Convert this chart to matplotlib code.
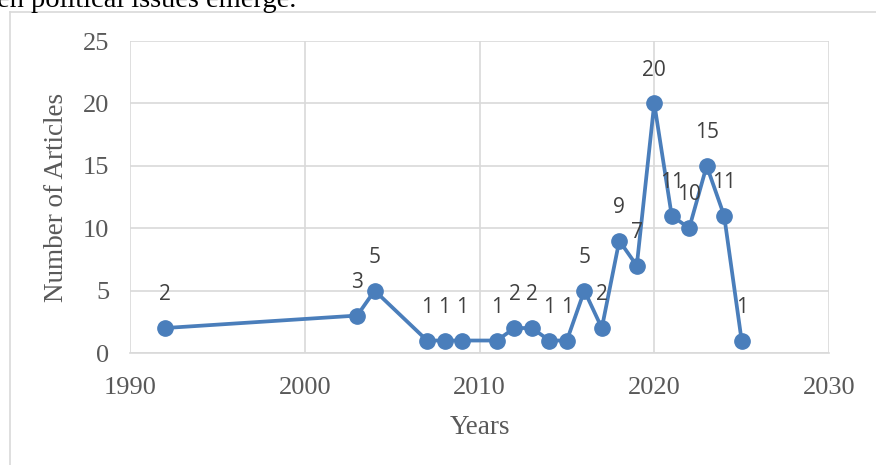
import matplotlib
matplotlib.use("Agg")
import matplotlib.pyplot as plt
from matplotlib.lines import Line2D

# articles per year
years = [1992, 2003, 2004, 2007, 2008, 2009, 2011, 2012, 2013, 2014, 2015,
         2016, 2017, 2018, 2019, 2020, 2021, 2022, 2023, 2024, 2025]
counts = [2, 3, 5, 1, 1, 1, 1, 2, 2, 1, 1,
          5, 2, 9, 7, 20, 11, 10, 15, 11, 1]

x_ticks = [1990, 2000, 2010, 2020, 2030]
y_ticks = [0, 5, 10, 15, 20, 25]

W, H = 876, 465
fig = plt.figure(figsize=(W / 100, H / 100), dpi=100)

serif = "Liberation Serif"
grey = "#595959"
grid = "#d9d9d9"
blue = "#4a7ebb"

# cropped sentence from the page above the chart
fig.text(-3 / W, 1 - 7 / H, "en political issues emerge.", family=serif,
         fontsize=20.5, color="black", va="baseline", ha="left")

# chart border
fig.add_artist(Line2D([9.5 / W, 9.5 / W], [0, 1 - 12 / H], color=grid, lw=1.2))
fig.add_artist(Line2D([9.5 / W, 1], [1 - 12 / H, 1 - 12 / H], color=grid, lw=1.2))

ax = fig.add_axes([130 / W, (H - 353) / H, 699 / W, 312 / H])
ax.plot(years, counts, color=blue, lw=2.7, marker="o", ms=11,
        markerfacecolor=blue, markeredgecolor=blue, clip_on=False, zorder=3)

for xv, yv in zip(years, counts):
    ax.annotate(str(yv), (xv, yv), xytext=(0, 24), textcoords="offset points",
                ha="center", va="center", fontsize=15, family="Open Sans",
                color="#404040")

ax.set_xlim(1990, 2030)
ax.set_ylim(0, 25)
ax.set_xticks(x_ticks)
ax.set_yticks(y_ticks)
ax.grid(True, color=grid, lw=1.2)
ax.set_axisbelow(True)
for s in ax.spines.values():
    s.set_visible(False)
ax.spines["bottom"].set_visible(True)
ax.spines["bottom"].set_color(grid)
ax.spines["bottom"].set_linewidth(1.2)
ax.tick_params(length=0, labelsize=19, labelcolor=grey)
for lab in ax.get_xticklabels() + ax.get_yticklabels():
    lab.set_family(serif)
ax.tick_params(axis="x", pad=17)
ax.tick_params(axis="y", pad=15)

ax.set_xlabel("Years", family=serif, fontsize=19.5, color=grey, labelpad=12)
ax.set_ylabel("Number of Articles", family=serif, fontsize=19.5, color=grey,
              labelpad=10)

fig.savefig("out.png", dpi=100)
